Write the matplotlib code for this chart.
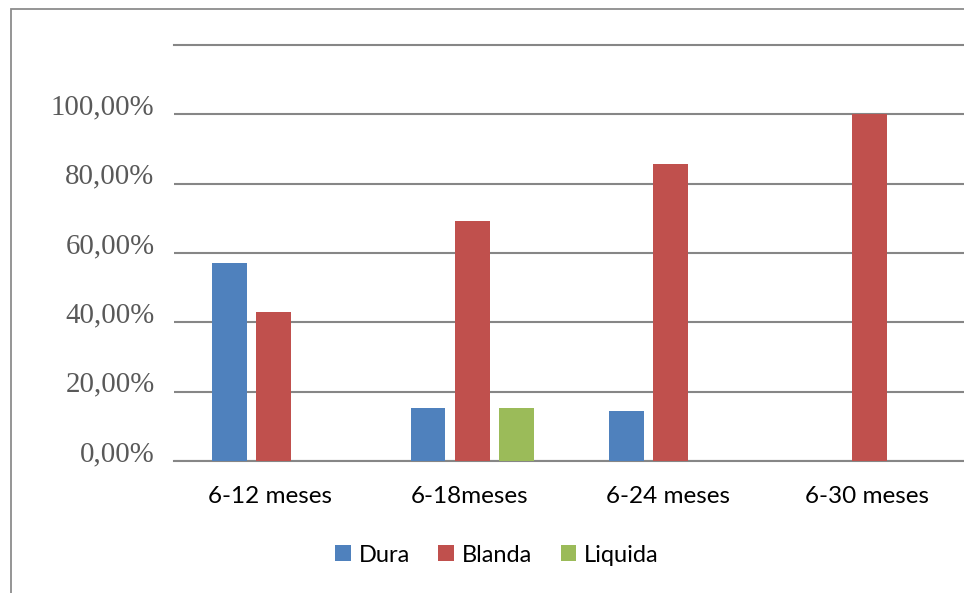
import matplotlib.pyplot as plt
import matplotlib.transforms as mtransforms
from matplotlib.patches import Rectangle
import numpy as np

# data (percent)
categorias = ['6-12 meses', '6-18meses', '6-24 meses', '6-30 meses']
dura = [57.14, 15.38, 14.29, 0.0]
blanda = [42.86, 69.23, 85.71, 100.0]
liquida = [0.0, 15.38, 0.0, 0.0]
series = ['Dura', 'Blanda', 'Liquida']
colores = ['#4F81BD', '#C0504D', '#9BBB59']
yticks = [0, 20, 40, 60, 80, 100]
ytick_labels = ['0,00%', '20,00%', '40,00%', '60,00%', '80,00%', '100,00%']

W, H = 964, 593
fig = plt.figure(figsize=(W / 100, H / 100), dpi=100)

# outer frame of the chart (cut off at right and bottom)
fig.patches.append(Rectangle((11 / W, -0.1), 1.2, 1 - 9 / H + 0.1,
                             transform=fig.transFigure, fill=False,
                             edgecolor='#8c8c8c', linewidth=1.3))

left, right = 174 / W, 969 / W
bottom, top = 1 - 461 / H, 1 - 45 / H
ax = fig.add_axes([left, bottom, right - left, top - bottom])

x = np.arange(len(categorias))
width = 0.175
step = 0.222
for i, (vals, nombre, col) in enumerate(zip([dura, blanda, liquida], series, colores)):
    ax.bar(x + (i - 1) * step, vals, width, color=col, label=nombre, zorder=3)

ax.set_xlim(-0.5, len(categorias) - 0.5)
ax.set_ylim(0, 120)
ax.set_yticks(yticks)
ax.set_yticklabels(ytick_labels, family='Liberation Serif', fontsize=20.8,
                   color='#595959', va='baseline')
# labels sit on their gridline, like in the original
shift = mtransforms.ScaledTranslation(0, 1 / 100, fig.dpi_scale_trans)
for lab in ax.get_yticklabels():
    lab.set_transform(lab.get_transform() + shift)
ax.set_xticks(x - 0.015)
ax.set_xticklabels(categorias, family='Lato', fontsize=17.5, color='black')
ax.tick_params(axis='y', length=0, pad=14)
ax.tick_params(axis='x', length=0, pad=18)

ax.grid(axis='y', color='#868686', linewidth=1.5, zorder=0)
for s in ['left', 'right']:
    ax.spines[s].set_visible(False)
ax.spines['top'].set_color('#868686')
ax.spines['top'].set_linewidth(1.5)
ax.spines['bottom'].set_color('#868686')
ax.spines['bottom'].set_linewidth(1.5)

fig.legend(loc='center', bbox_to_anchor=(497 / W, 1 - 555 / H), ncol=3,
           frameon=False, handlelength=0.65, handleheight=0.65, handletextpad=0.35,
           columnspacing=1.2, prop={'family': 'Lato', 'size': 17})

fig.savefig('out.png', dpi=100)
